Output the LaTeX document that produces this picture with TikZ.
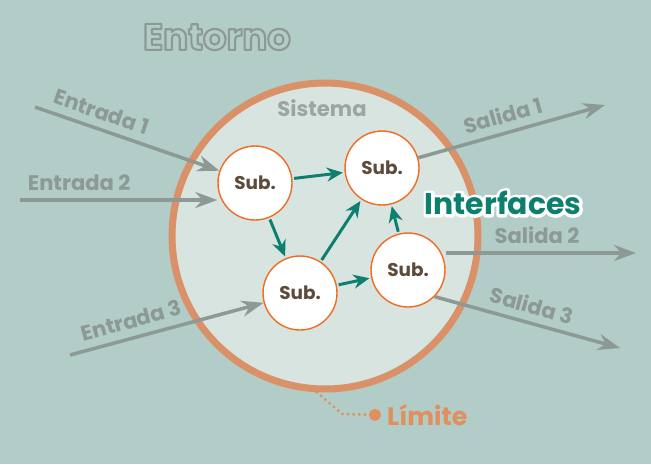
\documentclass[tikz,border=0pt]{standalone}
\usepackage{fontspec}
\setmainfont{Poppins}
\usetikzlibrary{positioning,arrows.meta}
\definecolor{sbbg}{HTML}{B2CCC7}
\definecolor{sbsys}{HTML}{D8E4E0}
\definecolor{sbring}{HTML}{DA9168}
\definecolor{sbgray}{HTML}{8D9994}
\definecolor{sbsoft}{HTML}{9CA5A0}
\definecolor{sbgreen}{HTML}{0C7F6E}
\definecolor{sborange}{HTML}{F26B22}
\definecolor{sbbrown}{HTML}{5C4B3B}
\definecolor{sblimit}{HTML}{E08F5E}
% stroked text: #1 = stroke width (bp), #2 = text
\newcommand\sbstroke[2]{\special{pdf:literal direct 1 Tr #1 w 1 j}#2\special{pdf:literal direct 0 Tr}}

\begin{document}
\begin{tikzpicture}[x=0.02cm, y=-0.02cm,
  sub/.style={circle, draw=sborange, fill=white, line width=0.8pt, minimum size=1.48cm, inner sep=0pt,
    font=\fontsize{10.5}{12}\selectfont\bfseries, text=sbbrown},
  inarr/.style={-{Stealth[length=4.4mm, width=3.2mm]}, line width=2pt, draw=sbgray},
  link/.style={-{Stealth[length=3.2mm, width=2.8mm]}, line width=1.7pt, draw=sbgreen, shorten <=1pt, shorten >=1pt},
  lbl/.style={font=\large\bfseries, text=sbgray, sloped, above=1pt}
]
\fill[sbbg] (0,0) rectangle (651,464);
\useasboundingbox (0,0) rectangle (651,464);
% ---------- environment and system ----------
\node[font=\fontsize{21}{24}\selectfont\bfseries, text=sbgray] (env) at (217,37) {\sbstroke{1.2}{Entorno}};
\node[circle, draw=sbring, fill=sbsys, line width=4pt, minimum size=6.12cm] (sys) at (325,236) {};
\node[font=\large\bfseries, text=sbsoft] (sysl) at (322,108) {Sistema};
% ---------- subsystems ----------
\node[sub] (sA) at (255,183) {Sub.};
\node[sub] (sB) at (382,168) {Sub.};
\node[sub] (sC) at (300,293) {Sub.};
\node[sub] (sD) at (408,270) {Sub.};
\draw[link] (sA) -- (sB);
\draw[link] (sA) -- (sC);
\draw[link] (sC) -- (sB);
\draw[link] (sC) -- (sD);
\draw[link] (sD) -- (sB);
\node[font=\fontsize{17}{20}\selectfont\bfseries, text=white] (intfw) at (503,203) {\sbstroke{3.5}{Interfaces}};
\node[font=\fontsize{17}{20}\selectfont\bfseries, text=sbgreen] (intf) at (intfw) {Interfaces};
% ---------- inputs ----------
\coordinate (in1) at (35,107);
\coordinate (in2) at (20,200);
\coordinate (in3) at (70,355);
\draw[inarr] (in1) -- node[lbl, pos=0.33]{Entrada 1} (sA);
\draw[inarr] (in2) -- node[lbl, pos=0.3]{Entrada 2} (in2 -| sA.west);
\draw[inarr] (in3) -- node[lbl, pos=0.34]{Entrada 3} (sC);
% ---------- outputs ----------
\coordinate (out1) at (605,105);
\coordinate (out2) at (636,253);
\coordinate (out3) at (620,348);
\draw[inarr] (sB) -- node[lbl, pos=0.48]{Salida 1} (out1);
\draw[inarr] (out2 -| sD.east) -- node[lbl, pos=0.48]{Salida 2} (out2);
\draw[inarr] (sD.-45) -- node[lbl, pos=0.5]{Salida 3} (out3);
% ---------- boundary ----------
\node[anchor=west, font=\Large\bfseries, text=sblimit] (lim) at (381,415) {Límite};
\coordinate (limc) at (342,414);
\draw[sblimit, line width=1.8pt, line cap=round, dash pattern=on 0pt off 3.2pt, -{Circle[length=2.4mm]}] (sys.267) -- (limc) -- (lim.west);
\end{tikzpicture}
\end{document}
